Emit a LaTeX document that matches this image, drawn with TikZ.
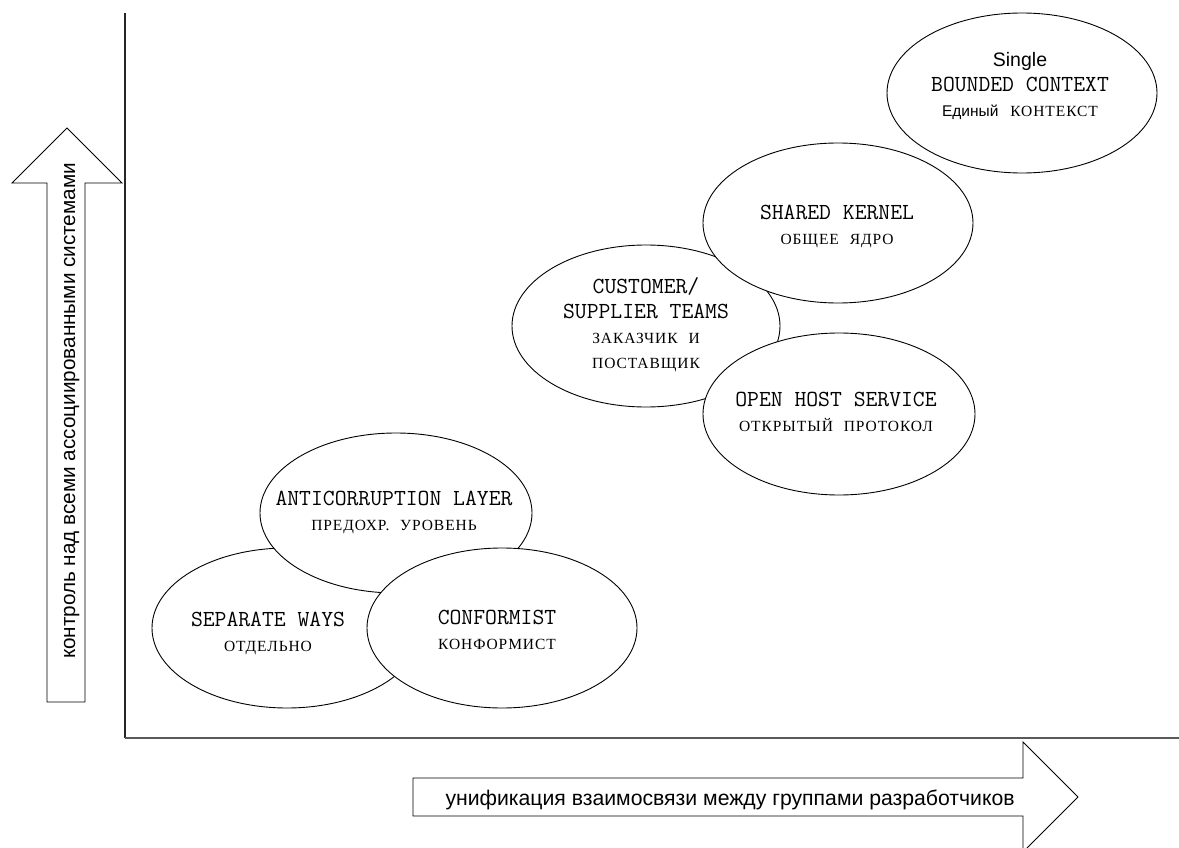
\documentclass[tikz,border=0pt]{standalone}
\usepackage{fontspec}
\newfontfamily\serifru[LetterSpace=6]{Liberation Serif}
\newfontfamily\sansf{Liberation Sans}
\usetikzlibrary{shapes.geometric}
\tikzset{
  ctx/.style={ellipse, draw=black, line width=0.9pt, fill=white, inner sep=0pt,
              minimum width=270pt, minimum height=160pt},
  lbl/.style={align=center, font=\ttfamily\fontsize{23}{25}\selectfont, inner sep=0pt},
  axisline/.style={line width=1.5pt},
  bigarrow/.style={draw=black, line width=0.9pt, fill=white, line join=miter},
  arrowtext/.style={font=\sansf\fontsize{21.2}{24}\selectfont, inner sep=0pt, anchor=base},
}
\newcommand\ru[1]{{\serifru\fontsize{15.5}{25}\selectfont\spaceskip=0.7em #1}}
\begin{document}
\begin{tikzpicture}[x=1pt,y=-1pt]
\clip (0,0) rectangle (1179,848);
\fill[white] (0,0) rectangle (1179,848);

% axes
\coordinate (ytop) at (125,13);
\coordinate (origin) at (125,738);
\coordinate (xend) at (1179,738);
\draw[axisline, black!85] (ytop) -- (origin);
\draw[axisline, black!65] (origin) -- (xend);

% vertical big arrow
\draw[bigarrow] (47,702) -- (47,183) -- (12,183) -- (67,128) -- (122,183) -- (85,183) -- (85,702) -- cycle;
\node[arrowtext, rotate=90, font=\sansf\fontsize{20.7}{24}\selectfont] (ylabel) at (75,411) {контроль над всеми ассоциированными системами};

% horizontal big arrow
\draw[bigarrow] (413,778) -- (1023,778) -- (1023,742) -- (1078,797) -- (1023,852) -- (1023,816) -- (413,816) -- cycle;
\node[arrowtext] (xlabel) at (730,805) {унификация взаимосвязи между группами разработчиков};

% upper group
\node[ctx] (single) at (1022,93) {};
\node[ctx, minimum width=268pt, minimum height=162pt] (customer) at (646,326) {};
\node[ctx] (shared) at (838,223) {};
\node[ctx, minimum width=272pt, minimum height=162pt] (openhost) at (839,414) {};

% lower group
\node[ctx] (separate) at (287,628) {};
\node[ctx, minimum width=272pt] (anti) at (396,513) {};
\node[ctx] (conformist) at (502,628) {};

% labels
\node[lbl] (tsingle) at (1020,86) {{\sansf\fontsize{19.5}{25}\selectfont Single}\\BOUNDED CONTEXT\\{\sansf\fontsize{15.5}{25}\selectfont Единый} \ru{КОНТЕКСТ}};
\node[lbl] (tshared) at (837,226) {SHARED KERNEL\\\ru{ОБЩЕЕ ЯДРО}};
\node[lbl] (tcustomer) at (646,325) {CUSTOMER/\\SUPPLIER TEAMS\\\ru{ЗАКАЗЧИК И}\\\ru{ПОСТАВЩИК}};
\node[lbl] (topen) at (836,412) {OPEN HOST SERVICE\\\ru{ОТКРЫТЫЙ ПРОТОКОЛ}};
\node[lbl] (tanti) at (394,512) {ANTICORRUPTION LAYER\\\ru{ПРЕДОХР. УРОВЕНЬ}};
\node[lbl] (tseparate) at (268,633) {SEPARATE WAYS\\\ru{ОТДЕЛЬНО}};
\node[lbl] (tconformist) at (497,630) {CONFORMIST\\\ru{КОНФОРМИСТ}};
\end{tikzpicture}
\end{document}
